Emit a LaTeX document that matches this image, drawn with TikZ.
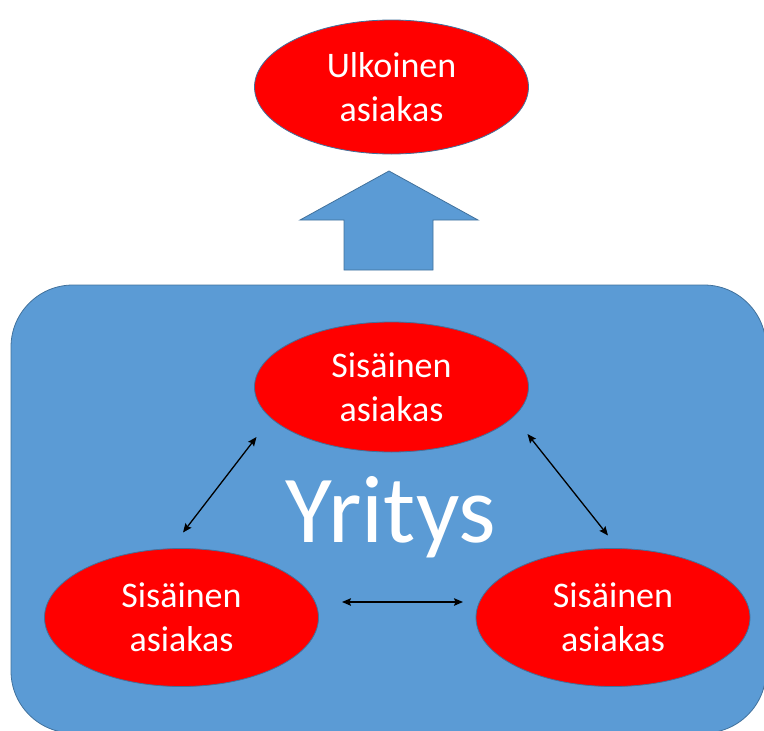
\documentclass[tikz,border=0pt]{standalone}
\usepackage{fontspec}
\setmainfont{Carlito}
\usetikzlibrary{shapes.geometric,arrows.meta,calc}
\definecolor{boxblue}{HTML}{5B9BD5}
\definecolor{edgeblue}{HTML}{41719C}
\definecolor{custred}{HTML}{FF0000}
\tikzset{
  cust/.style={ellipse, fill=custred, draw=edgeblue, line width=0.8pt,
    minimum width=274pt, minimum height=134pt, inner sep=0pt,
    text=white, align=center, font=\fontsize{36}{44}\selectfont},
  dbl/.style={{Stealth[length=9pt,width=7.5pt,inset=1.5pt]}-{Stealth[length=9pt,width=7.5pt,inset=1.5pt]}, line width=1.3pt, black},
  blockarrow/.style={fill=boxblue, draw=edgeblue, line width=0.8pt}
}
\begin{document}
\begin{tikzpicture}[x=1pt,y=-1pt]
\useasboundingbox (0,0) rectangle (764,731);
% company box
\draw[fill=boxblue, draw=edgeblue, line width=0.8pt, rounded corners=62pt] (11,285) rectangle (766,733);
% block arrow
\draw[blockarrow] (344,270) -- (344,220) -- (300,220) -- (389,171) -- (478,220) -- (433,220) -- (433,270) -- cycle;
% ellipses
\node[cust] (ext) at (391.5,87) {Ulkoinen\\asiakas};
\node[cust, minimum height=130pt] (mid) at (391.5,387) {Sisäinen\\asiakas};
\node[cust, minimum height=138pt] (bl) at (181.5,617.5) {Sisäinen\\asiakas};
\node[cust, minimum height=138pt] (br) at (613,617.5) {Sisäinen\\asiakas};
% company label
\node[text=white, font=\fontsize{96}{110}\selectfont, anchor=base, inner sep=0pt] (yr) at (391,542) {Yritys};
% connectors
\draw[dbl] ($(mid)+(-135,50)$) -- ($(bl)+(1.5,-85)$);
\draw[dbl] ($(mid)+(136,47)$) -- ($(br)+(-5,-82)$);
\draw[dbl] ($(bl)+(160.5,-15.5)$) -- ($(br)+(-150,-15.5)$);
\end{tikzpicture}
\end{document}
